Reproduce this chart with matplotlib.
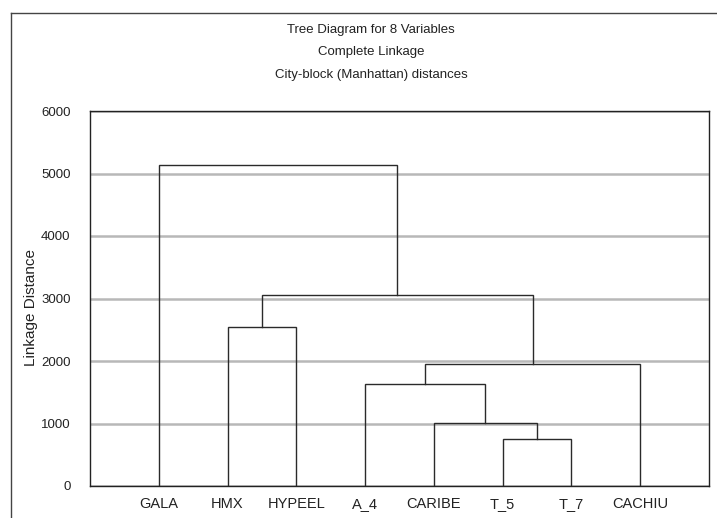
import matplotlib
matplotlib.use("Agg")
import matplotlib.pyplot as plt
from matplotlib.lines import Line2D

# ---- data ----
leaves = ["GALA", "HMX", "HYPEEL", "A_4", "CARIBE", "T_5", "T_7", "CACHIU"]
# merges: (left node, right node, linkage distance); node < 8 is a leaf, node >= 8 is cluster (8 + merge index)
merge_left = [5, 4, 3, 10, 1, 12, 0]
merge_right = [6, 8, 9, 7, 2, 11, 13]
merge_height = [760, 1010, 1630, 1950, 2540, 3050, 5130]
yticks = [0, 1000, 2000, 3000, 4000, 5000, 6000]
titles = ["Tree Diagram for 8 Variables", "Complete Linkage", "City-block (Manhattan) distances"]
ylabel = "Linkage Distance"

plt.rcParams['font.family'] = ['Liberation Sans', 'DejaVu Sans']

W, H = 717, 518
fig = plt.figure(figsize=(W / 100, H / 100), dpi=100)
fig.patch.set_facecolor("white")

ax = fig.add_axes([90 / W, (H - 486) / H, (709 - 90) / W, (486 - 111) / H])

# node positions
n = len(leaves)
pos_x = {i: i + 1 for i in range(n)}
pos_y = {i: 0.0 for i in range(n)}
line_color = "#2a2a2a"
for k, (a, b, h) in enumerate(zip(merge_left, merge_right, merge_height)):
    xa, ya = pos_x[a], pos_y[a]
    xb, yb = pos_x[b], pos_y[b]
    ax.plot([xa, xa, xb, xb], [ya, h, h, yb], color=line_color, lw=1.0,
            solid_joinstyle="miter", zorder=3)
    pos_x[n + k] = (xa + xb) / 2
    pos_y[n + k] = h

ax.set_xlim(0, 9)
ax.set_ylim(0, 6000)
ax.set_yticks(yticks)
ax.set_yticklabels([str(t) for t in yticks], fontsize=9.5, color="#222222")
ax.set_xticks(range(1, n + 1))
ax.set_xticklabels(leaves, fontsize=10.5, color="#222222")
ax.tick_params(axis="both", length=0)
ax.tick_params(axis="y", pad=14)
ax.tick_params(axis="x", pad=8)
ax.yaxis.grid(True, color="#b8b8b8", lw=1.8, zorder=0)
ax.set_axisbelow(True)
for s in ax.spines.values():
    s.set_color("#222222")
    s.set_linewidth(1.0)
ax.set_ylabel(ylabel, fontsize=11, color="#222222")
ax.yaxis.set_label_coords(-(90 - 31) / (709 - 90), (486 - 308) / (486 - 111))
ax.yaxis.label.set_verticalalignment("center")

# titles
for t, y in zip(titles, [30, 52, 75]):
    fig.text(371 / W, 1 - y / H, t, ha="center", va="center", fontsize=9.5, color="#222222")

# outer frame
fig.add_artist(Line2D([11 / W, 11 / W], [0, 1 - 13 / H], transform=fig.transFigure,
                      color="#444444", lw=1.0))
fig.add_artist(Line2D([11 / W, 1.0], [1 - 13 / H, 1 - 13 / H], transform=fig.transFigure,
                      color="#444444", lw=1.0))

fig.savefig("out.png", dpi=100)
